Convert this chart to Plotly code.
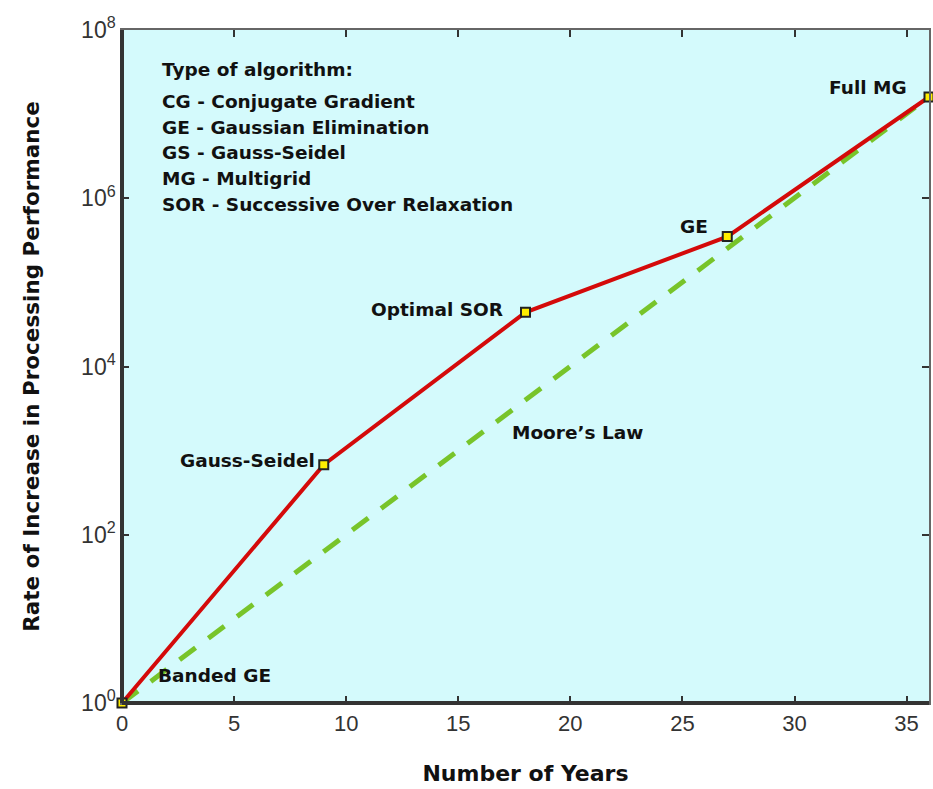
import plotly.graph_objects as go

# ---- data ----
years = [0, 9, 18, 27, 36]
algorithm_perf = [1, 680, 44000, 350000, 1.6e7]
algorithm_names = ["Banded GE", "Gauss-Seidel", "Optimal SOR", "GE", "Full MG"]
moore_years = [0, 9, 18, 27, 36]
moore_perf = [1, 63, 4000, 2.5e5, 1.6e7]

x_ticks = [0, 5, 10, 15, 20, 25, 30, 35]
y_tickvals = [1, 1e2, 1e4, 1e6, 1e8]
y_ticktext = ["10<sup>0</sup>", "10<sup>2</sup>", "10<sup>4</sup>", "10<sup>6</sup>", "10<sup>8</sup>"]

legend_title = "Type of algorithm:"
legend_lines = [
    "CG - Conjugate Gradient",
    "GE - Gaussian Elimination",
    "GS - Gauss-Seidel",
    "MG - Multigrid",
    "SOR - Successive Over Relaxation",
]

FONT = "'DejaVu Sans', sans-serif"
TICKFONT = "'Liberation Sans Narrow', 'Liberation Sans', sans-serif"
LABEL_SIZE = 18.5

fig = go.Figure()

fig.add_trace(go.Scatter(
    x=moore_years, y=moore_perf, mode="lines",
    line=dict(color="#78c42a", width=5, dash="20px,16px"),
    hoverinfo="skip", showlegend=False,
))
fig.add_trace(go.Scatter(
    x=years, y=algorithm_perf, mode="lines+markers",
    line=dict(color="#d40a0a", width=4),
    marker=dict(symbol="square", size=9, color="#ffee00",
                line=dict(color="#222", width=2)),
    text=algorithm_names, cliponaxis=False, showlegend=False,
))

# label positions (data coordinates: year, log10 value)
label_pos = {
    "Banded GE": (4.14, 0.33),
    "Gauss-Seidel": (5.61, 2.88),
    "Optimal SOR": (14.06, 4.68),
    "GE": (25.5, 5.67),
    "Full MG": (33.3, 7.32),
}
for name in algorithm_names:
    lx, ly = label_pos[name]
    fig.add_annotation(x=lx, y=ly, xref="x", yref="y", text=name, showarrow=False,
                       font=dict(family=FONT, size=LABEL_SIZE, color="#111", weight="bold"))

fig.add_annotation(x=20.34, y=3.22, xref="x", yref="y", text="Moore’s Law", showarrow=False,
                   font=dict(family=FONT, size=LABEL_SIZE, color="#111", weight="bold"))

fig.add_annotation(x=1.7, y=7.53, xref="x", yref="y", text=legend_title, showarrow=False,
                   xanchor="left", font=dict(family=FONT, size=LABEL_SIZE, color="#111", weight="bold"))
for i, line in enumerate(legend_lines):
    fig.add_annotation(x=1.7, y=7.15 - i * 0.305, xref="x", yref="y", text=line,
                       showarrow=False, xanchor="left",
                       font=dict(family=FONT, size=LABEL_SIZE, color="#111", weight="bold"))

# thick left & bottom axis lines
fig.add_shape(type="line", xref="paper", yref="paper", x0=0, x1=1, y0=0, y1=0,
              line=dict(color="#333", width=4))
fig.add_shape(type="line", xref="paper", yref="paper", x0=0, x1=0, y0=0, y1=1,
              line=dict(color="#333", width=4))

fig.update_xaxes(
    range=[0, 36], tickvals=x_ticks, ticks="inside", ticklen=7, tickwidth=2,
    tickcolor="#333", showline=True, linecolor="#666", linewidth=1.5, mirror="ticks",
    showgrid=False, zeroline=False,
    tickfont=dict(family=TICKFONT, size=22, color="#333"),
    title=dict(text="Number of Years", standoff=30,
               font=dict(family=FONT, size=22, color="#111", weight="bold")),
)
fig.update_yaxes(
    type="log", range=[0, 8], tickvals=y_tickvals, ticktext=y_ticktext,
    ticks="inside", ticklen=7, tickwidth=2, tickcolor="#333",
    showline=True, linecolor="#666", linewidth=1.5, mirror="ticks",
    showgrid=False, zeroline=False,
    tickfont=dict(family=TICKFONT, size=23, color="#333"),
    title=dict(text="Rate of Increase in Processing Performance", standoff=36,
               font=dict(family=FONT, size=21.5, color="#111", weight="bold")),
)

fig.update_layout(
    width=933, height=789,
    margin=dict(l=122, r=2, t=30, b=86),
    plot_bgcolor="#d4fafc", paper_bgcolor="white",
)

fig.write_html("out.html", config={"displayModeBar": False},
               post_script="document.body.style.margin='0';document.body.style.overflow='hidden';")
